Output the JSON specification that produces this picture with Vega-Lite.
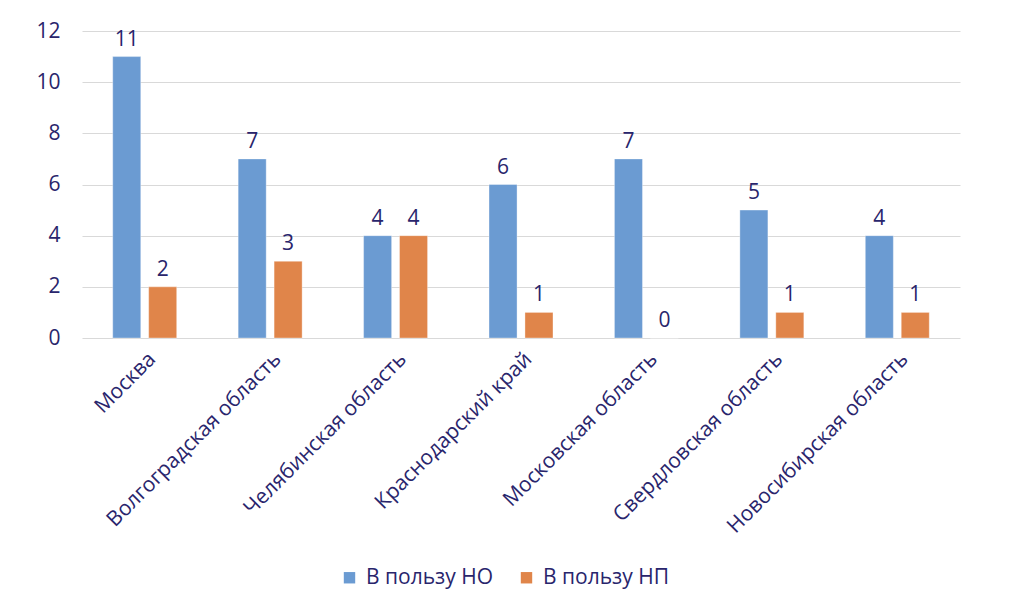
{
  "$schema": "https://vega.github.io/schema/vega-lite/v6.json",
  "width": 878,
  "height": 307,
  "autosize": {"type": "none"},
  "padding": {"left": 82, "top": 31, "right": 64, "bottom": 265},
  "background": "white",
  "config": {
    "font": "Open Sans",
    "view": {"stroke": null},
    "axis": {"labelColor": "#29256c", "labelFont": "Open Sans", "labelFontSize": 21, "labelFontWeight": 400}
  },
  "data": {
    "values": [
      {"region": "Москва", "series": "В пользу НО", "count": 11},
      {"region": "Москва", "series": "В пользу НП", "count": 2},
      {"region": "Волгоградская область", "series": "В пользу НО", "count": 7},
      {"region": "Волгоградская область", "series": "В пользу НП", "count": 3},
      {"region": "Челябинская область", "series": "В пользу НО", "count": 4},
      {"region": "Челябинская область", "series": "В пользу НП", "count": 4},
      {"region": "Краснодарский край", "series": "В пользу НО", "count": 6},
      {"region": "Краснодарский край", "series": "В пользу НП", "count": 1},
      {"region": "Московская область", "series": "В пользу НО", "count": 7},
      {"region": "Московская область", "series": "В пользу НП", "count": 0},
      {"region": "Свердловская область", "series": "В пользу НО", "count": 5},
      {"region": "Свердловская область", "series": "В пользу НП", "count": 1},
      {"region": "Новосибирская область", "series": "В пользу НО", "count": 4},
      {"region": "Новосибирская область", "series": "В пользу НП", "count": 1}
    ]
  },
  "encoding": {
    "x": {
      "field": "region",
      "type": "nominal",
      "sort": null,
      "scale": {"paddingInner": 0.49, "paddingOuter": 0.245},
      "axis": {
        "title": null,
        "labelAngle": -45,
        "labelLimit": 0,
        "domain": false,
        "ticks": false,
        "labelPadding": 10
      }
    },
    "xOffset": {
      "field": "series",
      "type": "nominal",
      "scale": {"paddingInner": 0.22}
    },
    "y": {
      "field": "count",
      "type": "quantitative",
      "scale": {"domain": [0, 12]},
      "axis": {
        "title": null,
        "values": [0, 2, 4, 6, 8, 10, 12],
        "domain": false,
        "ticks": false,
        "labelPadding": 22,
        "gridColor": "#d9d9d9",
        "gridWidth": 1
      }
    },
    "color": {
      "field": "series",
      "type": "nominal",
      "scale": {"domain": ["В пользу НО", "В пользу НП"], "range": ["#6b9bd2", "#e0854a"]},
      "legend": {
        "title": null,
        "orient": "none",
        "direction": "horizontal",
        "legendX": 257,
        "legendY": 536,
        "symbolType": "square",
        "symbolSize": 130,
        "symbolStrokeWidth": 0,
        "labelFontSize": 21,
        "labelFontWeight": 400,
        "labelColor": "#29256c",
        "labelFont": "Open Sans",
        "columnPadding": 22,
        "labelOffset": 6
      }
    }
  },
  "layer": [
    {"mark": {"type": "bar", "stroke": "#ffffff", "strokeOpacity": 0.35, "strokeWidth": 1}},
    {
      "mark": {"type": "text", "baseline": "bottom", "dy": -7, "fontSize": 21, "fontWeight": 400, "font": "Open Sans"},
      "encoding": {"text": {"field": "count", "type": "quantitative"}, "color": {"value": "#29256c"}}
    }
  ]
}
